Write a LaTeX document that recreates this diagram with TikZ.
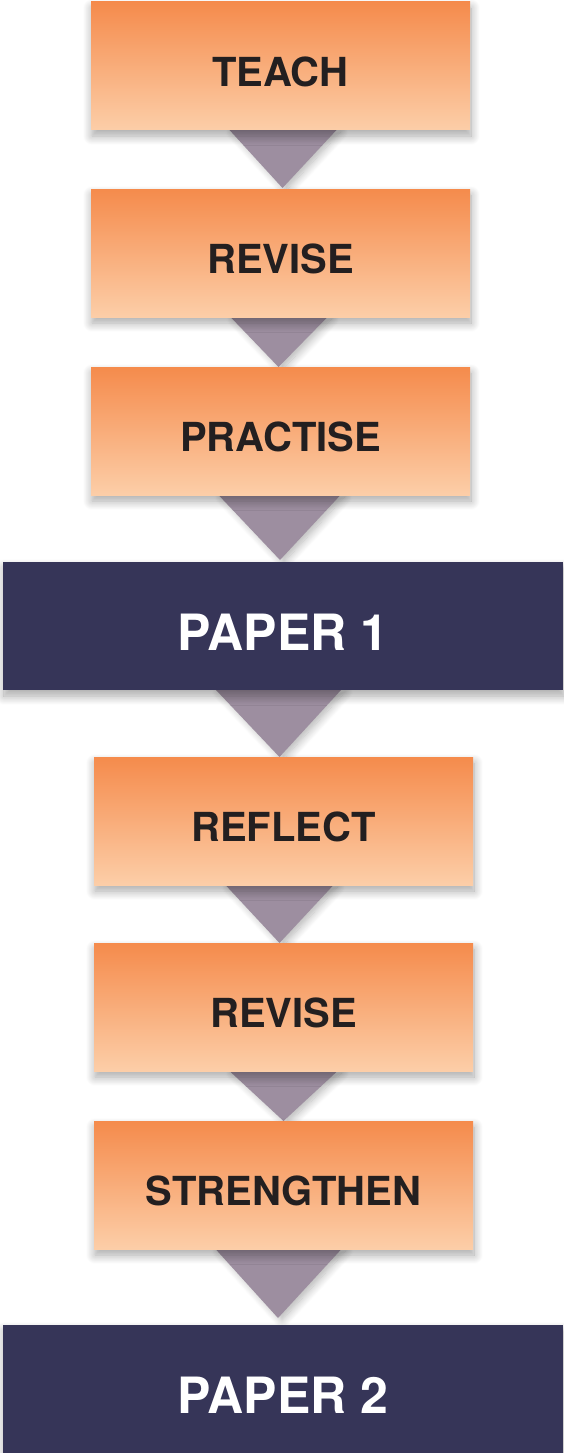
\documentclass[tikz,border=0pt]{standalone}
\usepackage{fontspec}
\setmainfont{TeX Gyre Heros}
\usepackage{tikz}
\usetikzlibrary{calc,shadows.blur,backgrounds}
\definecolor{orangetop}{RGB}{245,139,76}
\definecolor{orangebot}{RGB}{252,206,168}
\definecolor{navy}{RGB}{54,53,88}
\definecolor{mauve}{RGB}{157,142,160}
\definecolor{inkblack}{RGB}{35,31,32}

\begin{document}
\begin{tikzpicture}[x=1pt,y=1pt,
	stage/.style={rectangle,minimum width=379pt,minimum height=128pt,inner sep=0pt,outer sep=0pt,
		text height=41pt,text depth=0pt,
		top color=orangetop,bottom color=orangebot,text=inkblack,
		font=\fontsize{40}{48}\selectfont\bfseries,
		blur shadow={shadow xshift=1pt,shadow yshift=-6pt,shadow blur radius=9pt,shadow blur steps=12,shadow opacity=35}},
	paper/.style={rectangle,minimum width=560pt,minimum height=128pt,inner sep=0pt,outer sep=0pt,
		text height=48pt,text depth=0pt,
		fill=navy,text=white,font=\fontsize{50}{60}\selectfont\bfseries,
		blur shadow={shadow xshift=1pt,shadow yshift=-6pt,shadow blur radius=9pt,shadow blur steps=12,shadow opacity=35}},
	tri/.style={fill=mauve,draw=none,
		blur shadow={shadow xshift=4pt,shadow yshift=-2pt,shadow blur radius=8pt,shadow blur steps=10,shadow opacity=30}}]
			\useasboundingbox (0,0) rectangle (563,-1453);
			
			\node[stage] (1)at(280.5,-66) {TEACH};
			\node[stage] (2)at(280.5,-253) {REVISE};
			\node[stage] (3)at(280.5,-431) {PRACTISE};
			\node[paper] (4)at(283,-626) {PAPER 1};
			\node[stage] (5)at(283.5,-821) {REFLECT};
			\node[stage] (6)at(283.5,-1007) {REVISE};
			\node[stage] (7)at(283.5,-1185) {STRENGTHEN};
			\node[paper] (8)at(283,-1389) {PAPER 2};
			
			% arrows between the steps
			\begin{scope}[on background layer]
			\fill[tri] ($(1.south)+(-51,0)$) -- ($(1.south)+(56,0)$) -- ($(2.north)+(2,1)$) -- cycle;
			\fill[tri] ($(2.south)+(-50,0)$) -- ($(2.south)+(47,0)$) -- ($(3.north)+(-2,0)$) -- cycle;
			\fill[tri] ($(3.south)+(-62,0)$) -- ($(3.south)+(60,0)$) -- ($(4.north)+(-3,2)$) -- cycle;
			\fill[tri] ($(4.south)+(-67,0)$) -- ($(4.south)+(58,0)$) -- ($(5.north)+(-4,0)$) -- cycle;
			\fill[tri] ($(5.south)+(-58,0)$) -- ($(5.south)+(50,0)$) -- ($(6.north)+(-4,0)$) -- cycle;
			\fill[tri] ($(6.south)+(-54,0)$) -- ($(6.south)+(54,0)$) -- ($(7.north)+(0,0)$) -- cycle;
			\fill[tri] ($(7.south)+(-68,0)$) -- ($(7.south)+(58,0)$) -- ($(8.north)+(-5,7)$) -- cycle;
			\end{scope}
		\end{tikzpicture}
\end{document}
